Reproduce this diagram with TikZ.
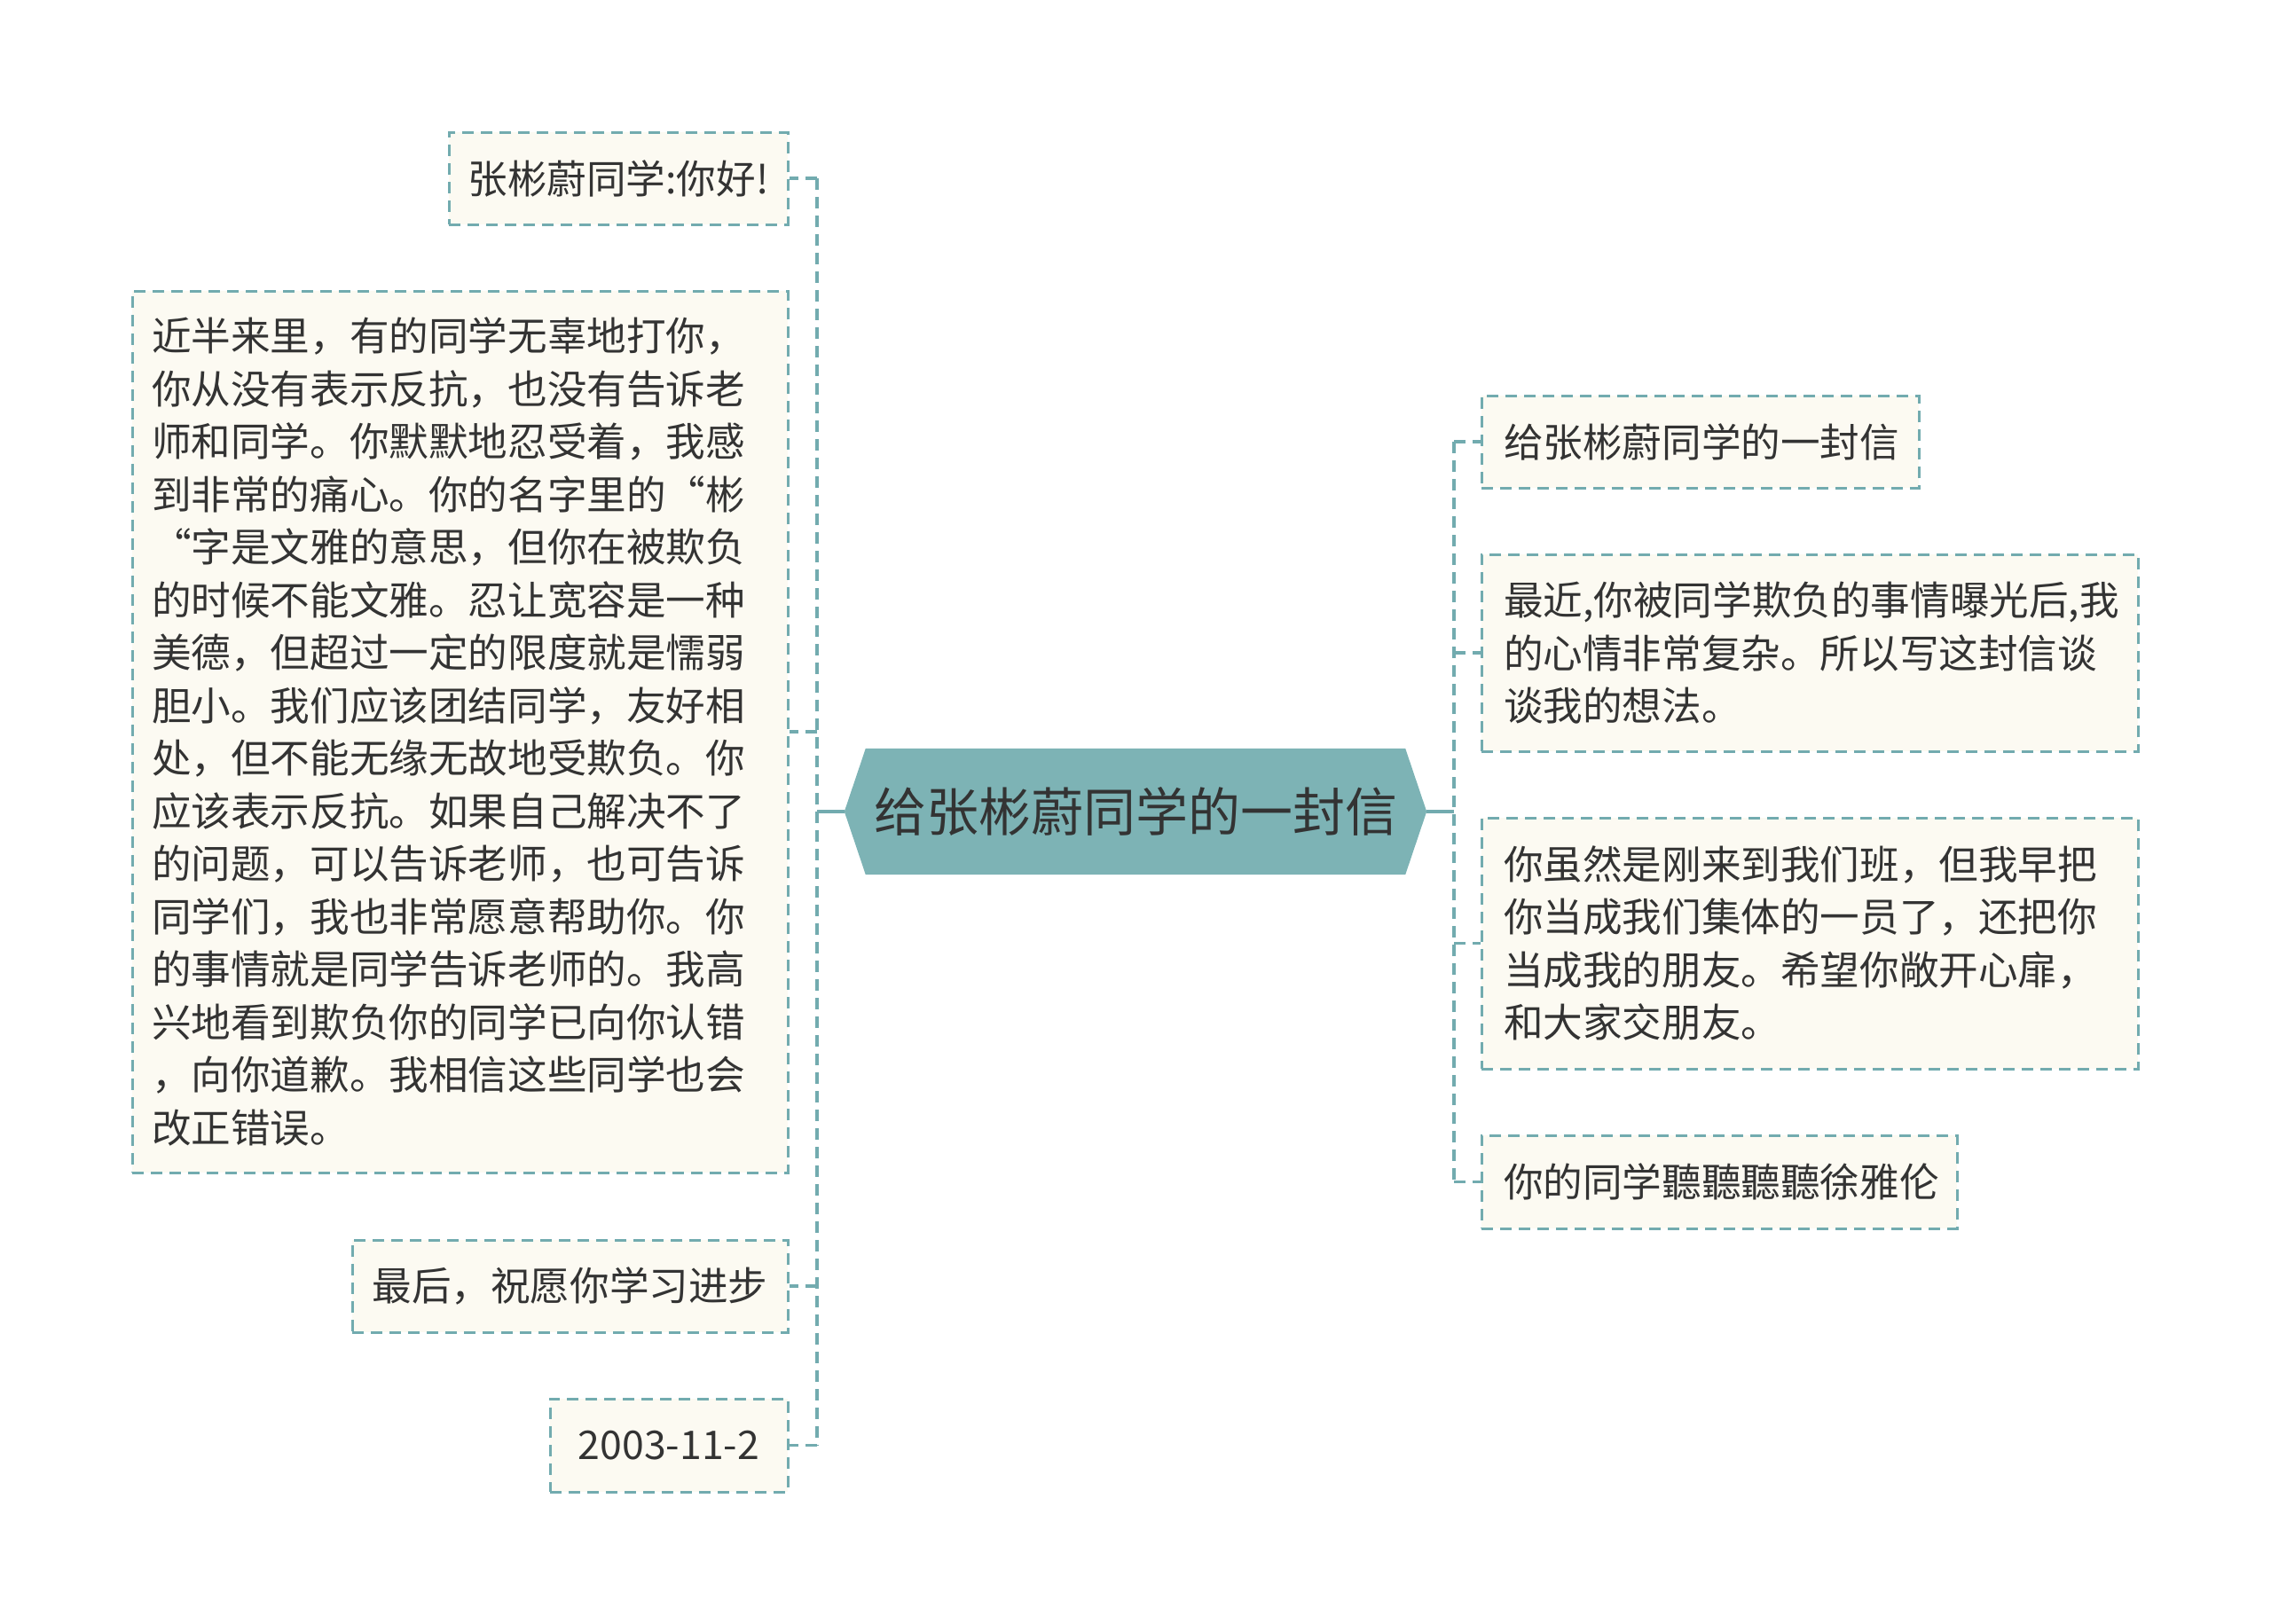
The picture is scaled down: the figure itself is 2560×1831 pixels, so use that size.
\documentclass[tikz,border=0pt]{standalone}
\usepackage{fontspec}
\setmainfont{Noto Sans CJK SC}
\usetikzlibrary{backgrounds}
\definecolor{lineC}{HTML}{72ABAF}
\definecolor{boxFill}{HTML}{FCFAF2}
\definecolor{hubFill}{HTML}{7DB3B5}
\definecolor{txt}{HTML}{333333}
\tikzset{
  leaf/.style={draw=lineC, line width=3pt, dash pattern=on 13pt off 8pt, fill=boxFill,
    text=txt, inner sep=0pt, font=\fontsize{44.6}{59.5}\selectfont},
  para/.style={leaf, align=left},
  conn/.style={draw=lineC, line width=3.6pt, dash pattern=on 13pt off 8pt},
  hubconn/.style={draw=lineC, line width=3.6pt},
}
\begin{document}
\begin{tikzpicture}[x=1pt,y=-1pt]
\useasboundingbox (0,0) rectangle (2560,1831);
% hub
\node[text=txt, inner sep=0pt, minimum width=656pt, minimum height=142pt,
  font=\fontsize{59}{70}\selectfont] (hub) at (1280,915) {给张彬蔚同学的一封信};
\begin{scope}[on background layer]
\fill[hubFill] (hub.west) -- ([xshift=24pt]hub.north west) -- ([xshift=-24pt]hub.north east)
  -- (hub.east) -- ([xshift=-24pt]hub.south east) -- ([xshift=24pt]hub.south west) -- cycle;
\end{scope}
% left nodes
\node[leaf, minimum width=382pt, minimum height=104pt] (n1) at (697,201) {张彬蔚同学:你好!};
\node[para, minimum width=739pt, minimum height=994pt, text width=695pt] (n2) at (518.5,825) {近半来里，有的同学无辜地打你，\\你从没有表示反抗，也没有告诉老\\师和同学。你默默地忍受着，我感\\到非常的痛心。你的名字里的“彬\\“字是文雅的意思，但你在被欺负\\的时候不能文雅。忍让宽容是一种\\美德，但超过一定的限度就是懦弱\\胆小。我们应该团结同学，友好相\\处，但不能无缘无故地受欺负。你\\应该表示反抗。如果自己解决不了\\的问题，可以告诉老师，也可告诉\\同学们，我也非常愿意帮助你。你\\的事情就是同学告诉老师的。我高\\兴地看到欺负你的同学已向你认错\\，向你道歉。我相信这些同学也会\\改正错误。};
\node[leaf, minimum width=491pt, minimum height=104pt] (n3) at (642.5,1450) {最后，祝愿你学习进步};
\node[leaf, minimum width=268pt, minimum height=105pt] (n4) at (754,1629.5) {2003-11-2};
% right nodes
\node[para, minimum width=493pt, minimum height=104pt, text width=443pt] (r1) at (1916.5,498) {给张彬蔚同学的一封信};
\node[para, minimum width=740pt, minimum height=222pt, text width=690pt] (r2) at (2040,736) {最近,你被同学欺负的事情曝光后,我\\的心情非常复杂。所以写这封信谈\\谈我的想法。};
\node[para, minimum width=740pt, minimum height=283pt, text width=690pt] (r3) at (2040,1063.5) {你虽然是刚来到我们班，但我早把\\你当成我们集体的一员了，还把你\\当成我的朋友。希望你敞开心扉，\\和大家交朋友。};
\node[para, minimum width=536pt, minimum height=105pt, text width=486pt] (r4) at (1938,1332.5) {你的同学聽聽聽聽徐雅伦};
% trunks
\coordinate (lt) at (921,915);
\coordinate (rt) at (1639,915);
\draw[hubconn] (hub.west) -- (lt);
\draw[hubconn] (hub.east) -- (rt);
\draw[conn] (lt |- n1.east) -- (lt |- n4.east);
\draw[conn] (rt |- r1.west) -- (rt |- r4.west);
\foreach \n in {n1,n2,n3,n4} \draw[conn] (lt |- \n.east) -- (\n.east);
\foreach \n in {r1,r2,r3,r4} \draw[conn] (rt |- \n.west) -- (\n.west);
\end{tikzpicture}
\end{document}
